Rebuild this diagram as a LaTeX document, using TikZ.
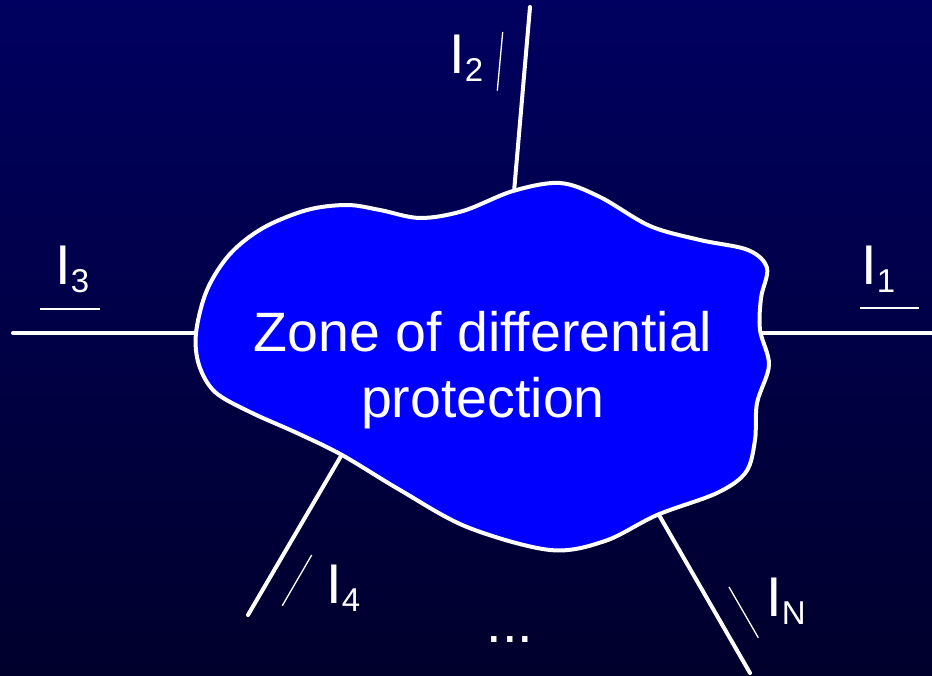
\documentclass[tikz,border=0pt]{standalone}
\usepackage{fontspec}
\setmainfont{Liberation Sans}
\definecolor{bgtop}{RGB}{0,0,96}
\definecolor{bgbot}{RGB}{0,0,44}
\definecolor{zoneblue}{RGB}{0,0,255}
\begin{document}
\begin{tikzpicture}[x=1pt,y=-1pt,
  wire/.style={draw=white,line width=4pt,line cap=round},
  thin/.style={draw=white,line width=1.3pt},
  zone/.style={fill=zoneblue,draw=white,line width=4pt},
  lbl/.style={text=white,inner sep=0pt,anchor=base west,font=\fontsize{56}{60}\selectfont},
  ztext/.style={text=white,inner sep=0pt,align=center,font=\fontsize{55.5}{66}\selectfont}]
\newcommand{\subl}[1]{\raisebox{-8pt}{\fontsize{33}{34}\selectfont #1}}
% background
\shade[top color=bgtop,bottom color=bgbot] (0,0) rectangle (932,676);
\useasboundingbox (0,0) rectangle (932,676);
% wire endpoints
\coordinate (w2a) at (530,7);   \coordinate (w2b) at (514,192);
\coordinate (w3a) at (13,333);  \coordinate (w3b) at (198,333);
\coordinate (w1a) at (762,333); \coordinate (w1b) at (940,333);
\coordinate (w4a) at (341,456); \coordinate (w4b) at (248,615);
\coordinate (wNa) at (659,515); \coordinate (wNb) at (750,673);
\draw[wire] (w2a) -- (w2b);
\draw[wire] (w3a) -- (w3b);
\draw[wire] (w1a) -- (w1b);
\draw[wire] (w4a) -- (w4b);
\draw[wire] (wNa) -- (wNb);
% zone
\draw[zone] plot[smooth cycle,tension=0.55] coordinates {
 (196,333) (199,365) (215,392) (250,412) (297,433) (342,455) (400,490)
 (467,527) (550,550) (605,541) (657,515) (717,493) (746,472) (755,440)
 (757,403) (769,365) (760,330) (761,298) (767,268) (748,250) (700,240)
 (650,226) (600,197) (560,183) (513,191) (463,211) (420,218) (380,210)
 (347,205) (307,210) (263,228) (230,254) (207,290)};
% zone text
\node[ztext] (zt) at (483,370) {Zone of differential\\protection};
% labels
\node[lbl] (l3) at (55,285) {I\subl{3}};
\node[lbl] (l1) at (861,285) {I\subl{1}};
\node[lbl] (l2) at (449,74) {I\subl{2}};
\node[lbl] (l4) at (326,603) {I\subl{4}};
\node[lbl] (lN) at (766,616) {I\subl{N}};
\node[text=white,inner sep=0pt,anchor=base,font=\fontsize{56}{60}\selectfont] (dots) at (510,642) {...};
% direction marks
\coordinate (m3a) at (40,309);    \coordinate (m3b) at (100,309);
\coordinate (m1a) at (860,308);   \coordinate (m1b) at (919,308);
\coordinate (m2a) at (502.7,32);  \coordinate (m2b) at (497.3,90.7);
\coordinate (m4a) at (311.7,555); \coordinate (m4b) at (282.3,605.7);
\coordinate (mNa) at (729,587);   \coordinate (mNb) at (758.3,637.7);
\draw[thin] (m3a) -- (m3b);
\draw[thin] (m1a) -- (m1b);
\draw[thin] (m2a) -- (m2b);
\draw[thin] (m4a) -- (m4b);
\draw[thin] (mNa) -- (mNb);
\end{tikzpicture}
\end{document}
